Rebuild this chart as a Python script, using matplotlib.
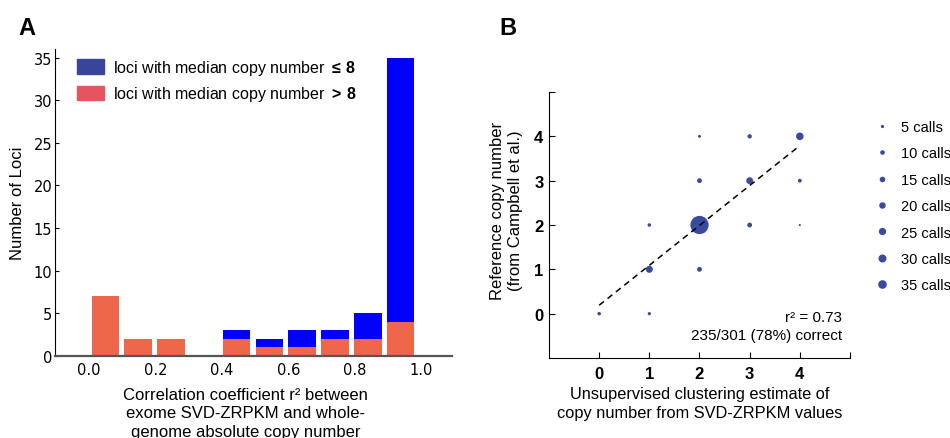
import numpy as np
import matplotlib
matplotlib.use("Agg")
import matplotlib.pyplot as plt
from matplotlib.patches import Patch
from matplotlib.lines import Line2D

plt.rcParams['mathtext.fontset'] = 'custom'
plt.rcParams['mathtext.rm'] = 'Liberation Sans'
plt.rcParams['mathtext.bf'] = 'Liberation Sans:bold'

# Panel A data: histogram of r^2 (10 bins from 0 to 1)
bin_left = np.array([0.0, 0.1, 0.2, 0.3, 0.4, 0.5, 0.6, 0.7, 0.8, 0.9])
counts_high = np.array([7, 2, 2, 0, 2, 1, 1, 2, 2, 4])   # median copy number > 8
counts_low = np.array([0, 0, 0, 0, 1, 1, 2, 1, 3, 31])   # median copy number <= 8

# Panel B data: bubble counts
est_cn = np.array([0, 1, 1, 1, 2, 2, 2, 2, 3, 3, 3, 4, 4, 4])
ref_cn = np.array([0, 0, 1, 2, 1, 2, 3, 4, 2, 3, 4, 2, 3, 4])
n_calls = np.array([6, 5, 23, 6, 11, 157, 11, 4, 11, 22, 9, 2, 7, 27])
fit_intercept = 0.19
fit_slope = 0.90
legend_calls = [5, 10, 15, 20, 25, 30, 35]

sans = 'Liberation Sans'
red = '#EE674A'
blue = '#0000FF'
dot = '#3A4AA0'
k = 1.1  # marker area (pt^2) per call

fig = plt.figure(figsize=(9.5, 4.39), dpi=100)

# ---------- Panel A ----------
axA = fig.add_axes([55/950, 82/439, 397/950, 307/439])
step = 0.0989
left = 0.007 + np.arange(len(bin_left)) * step
w = 0.0825
axA.bar(left, counts_high, width=w, align='edge', color=red)
axA.bar(left, counts_low, width=w, bottom=counts_high, align='edge', color=blue)
axA.set_xlim(-0.103, 1.093)
axA.set_ylim(0, 36)
axA.set_xticks([0.0, 0.2, 0.4, 0.6, 0.8, 1.0])
axA.set_xticklabels(['0.0', '0.2', '0.4', '0.6', '0.8', '1.0'])
axA.set_yticks([0, 5, 10, 15, 20, 25, 30, 35])
axA.tick_params(axis='y', direction='in', length=3, pad=2, labelsize=10.5)
axA.tick_params(axis='x', length=0, pad=4, labelsize=10.5)
axA.spines['top'].set_visible(False)
axA.spines['right'].set_visible(False)
axA.spines['bottom'].set_linewidth(1.6)
axA.spines['bottom'].set_color('#555555')
axA.set_ylabel('Number of Loci', family=sans, fontsize=12)
axA.yaxis.set_label_coords(-0.075, 0.5)
axA.set_xlabel('Correlation coefficient r² between\nexome SVD-ZRPKM and whole-\ngenome absolute copy number',
               family=sans, fontsize=12, linespacing=1.3)
axA.xaxis.set_label_coords(0.48, -0.1)

handles = [Patch(color='#38459A'), Patch(color='#E55560')]
labels = [r'loci with median copy number $\mathbf{{\leq}\,8}$',
          r'loci with median copy number $\mathbf{{>}\,8}$']
axA.legend(handles, labels, loc='upper left', bbox_to_anchor=(0.055, 0.97),
           frameon=False, borderpad=0, borderaxespad=0, handlelength=1.7,
           handleheight=1.05, handletextpad=0.55, labelspacing=0.45,
           prop={'family': sans, 'size': 11.5})

# ---------- Panel B ----------
axB = fig.add_axes([549/950, 80/439, 301/950, 266/439])
axB.scatter(est_cn, ref_cn, s=k * n_calls, color=dot, edgecolors='none', zorder=3)
xs = np.array([0, 4])
axB.plot(xs, fit_intercept + fit_slope * xs, color='black', ls=(0, (4, 3)), lw=1.1, zorder=4)
axB.set_xlim(-1, 5)
axB.set_ylim(-1, 5)
axB.set_xticks([0, 1, 2, 3, 4, 5])
axB.set_xticklabels(['0', '1', '2', '3', '4', ''])
axB.set_yticks([0, 1, 2, 3, 4, 5])
axB.set_yticklabels(['0', '1', '2', '3', '4', ''])
axB.tick_params(direction='in', length=4, width=0.8)
axB.tick_params(axis='x', pad=6)
axB.tick_params(axis='y', pad=4)
for lab in axB.get_xticklabels() + axB.get_yticklabels():
    lab.set_family(sans)
    lab.set_fontweight('bold')
    lab.set_fontsize(12)
axB.spines['top'].set_visible(False)
axB.spines['right'].set_visible(False)
axB.set_xlabel('Unsupervised clustering estimate of\ncopy number from SVD-ZRPKM values',
               family=sans, fontsize=11.8, linespacing=1.3)
axB.xaxis.set_label_coords(0.502, -0.105)
axB.set_ylabel('Reference copy number\n(from Campbell et al.)', family=sans, fontsize=12,
               linespacing=1.25)
axB.yaxis.set_label_coords(-0.086, 0.558)
axB.text(0.973, 0.155, 'r² = 0.73', transform=axB.transAxes, ha='right', va='center',
         family=sans, fontsize=11)
axB.text(0.973, 0.086, '235/301 (78%) correct', transform=axB.transAxes, ha='right',
         va='center', family=sans, fontsize=11)

bh = [Line2D([], [], ls='none', marker='o', markersize=np.sqrt(k * c), color=dot,
             markeredgewidth=0) for c in legend_calls]
bl = ['%d calls' % c for c in legend_calls]
fig.legend(bh, bl, loc='upper left', bbox_to_anchor=(875/950, 1 - 121/439),
           frameon=False, borderpad=0, borderaxespad=0, handlelength=1.0,
           handletextpad=0.75, labelspacing=0.85, prop={'family': sans, 'size': 10.5})

fig.text(18/950, 1 - 35/439, 'A', family=sans, fontweight='bold', fontsize=17)
fig.text(499/950, 1 - 35/439, 'B', family=sans, fontweight='bold', fontsize=17)

fig.savefig('out.png', dpi=100)
